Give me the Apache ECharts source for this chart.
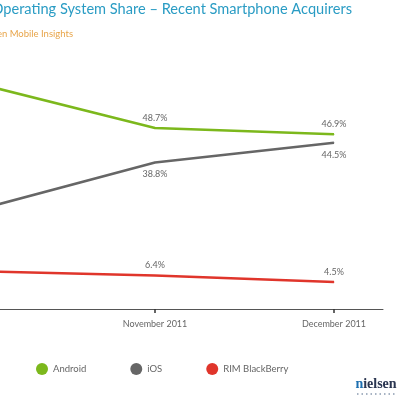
<!DOCTYPE html>
<html><head><meta charset="utf-8">
<script src="https://cdn.jsdelivr.net/npm/echarts@6/dist/echarts.min.js"></script>
<style>html,body{margin:0;padding:0;background:#fff}#c{width:400px;height:400px}</style>
</head><body><div id="c"></div>
<script>
const months = ['October 2011', 'November 2011', 'December 2011'];
const android = [61.6, 48.7, 46.9];
const ios = [25.1, 38.8, 44.5];
const rim = [7.6, 6.4, 4.5];
const seriesNames = ['Android', 'iOS', 'RIM BlackBerry'];
const colors = ['#7cb81c', '#666666', '#e0352b'];
const titleText = 'Operating System Share – Recent Smartphone Acquirers';
const sourceText = 'Source: Nielsen Mobile Insights';

const font = 'Lato, "Open Sans", sans-serif';
function pts(arr) { return arr.map((v, i) => [i, v]); }
function mk(name, arr, color, pos, dist) {
  return {
    name, type: 'line', data: pts(arr), color, clip: true,
    lineStyle: { width: 2.5, color },
    symbol: 'circle', symbolSize: 1, showSymbol: true,
    itemStyle: { color },
    label: { show: true, position: pos, distance: dist, formatter: p => p.value[1].toFixed(1) + '%',
      color: '#666', fontSize: 9, fontFamily: font },
    emphasis: { disabled: true }, animation: false
  };
}
const chart = echarts.init(document.getElementById('c'));
chart.setOption({
  animation: false,
  grid: { left: 0, right: 17, top: 50, bottom: 91 },
  xAxis: {
    type: 'value', min: 0.134, max: 2.274,
    axisLine: { show: true, onZero: false, lineStyle: { color: '#555', width: 1 } },
    axisTick: { show: true, length: 4, lineStyle: { color: '#333', width: 1.5 }, customValues: [1, 2] },
    axisLabel: { customValues: [1, 2], formatter: v => months[Math.round(v)] || '', color: '#666', fontSize: 9, margin: 11, fontFamily: font },
    splitLine: { show: false }
  },
  yAxis: { type: 'value', min: -3.24, max: 71.1, show: false, splitLine: { show: false } },
  legend: {
    left: 31, top: 358, icon: 'circle', itemWidth: 12, itemHeight: 12, itemGap: 44,
    textStyle: { color: '#666', fontSize: 9.5, fontFamily: font },
    data: seriesNames
  },
  series: [
    mk(seriesNames[0], android, colors[0], 'top', 5),
    mk(seriesNames[1], ios, colors[1], 'bottom', 7),
    mk(seriesNames[2], rim, colors[2], 'top', 5)
  ],
  graphic: [
    { type: 'text', x: 352, y: 9, style: { text: titleText, fill: '#2a9cc4', font: '14.6px ' + font, textAlign: 'right', textVerticalAlign: 'middle' } },
    { type: 'text', x: 73, y: 34, style: { text: sourceText, fill: '#e8a54a', font: '9.5px ' + font, textAlign: 'right', textVerticalAlign: 'middle' } },
    { type: 'text', x: 376, y: 384, style: { rich: { a: { fill: '#1d6fb0', font: 'bold 14px "Liberation Serif", serif' }, b: { fill: '#2a3550', font: 'bold 14px "Liberation Serif", serif' } }, text: '{a|n}{b|ielsen}', textAlign: 'center', textVerticalAlign: 'middle' } },
    { type: 'line', shape: { x1: 357, y1: 394, x2: 397, y2: 394 }, style: { stroke: '#8a9ab0', lineWidth: 1.5, lineDash: [1.5, 3] } }
  ]
});
</script></body></html>
